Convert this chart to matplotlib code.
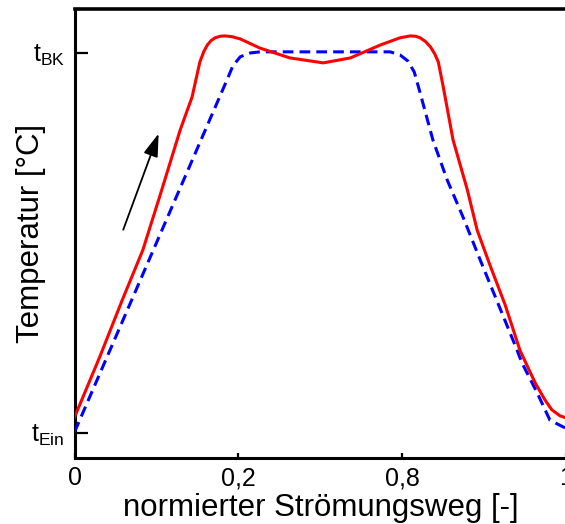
import matplotlib
matplotlib.use("Agg")
import matplotlib.pyplot as plt

# normalised flow path (0..1 over the drawn axis) and temperature (t_Ein = 0, t_BK = 1)
red_x = [0.0, 0.052, 0.097, 0.139, 0.174, 0.215, 0.239, 0.255, 0.263, 0.270, 0.278, 0.286,
         0.296, 0.306, 0.320, 0.337, 0.377, 0.438, 0.506, 0.561, 0.622, 0.662, 0.683,
         0.694, 0.703, 0.714, 0.724, 0.733, 0.740, 0.750, 0.770, 0.799, 0.819, 0.845,
         0.876, 0.906, 0.937, 0.957, 0.971, 0.988, 1.0]
red_y = [0.041, 0.202, 0.349, 0.481, 0.625, 0.797, 0.883, 0.976, 1.003, 1.020, 1.032, 1.039,
         1.043, 1.044, 1.042, 1.036, 1.012, 0.986, 0.973, 0.986, 1.020, 1.039, 1.044,
         1.043, 1.039, 1.029, 1.015, 0.996, 0.975, 0.910, 0.770, 0.639, 0.533, 0.441,
         0.336, 0.217, 0.131, 0.086, 0.060, 0.044, 0.039]

blue_x = [0.0, 0.310, 0.322, 0.337, 0.357, 0.377, 0.642, 0.662, 0.678, 0.691, 0.703,
          0.729, 0.758, 0.790, 0.825, 0.900, 0.910, 0.941, 0.967, 0.994, 1.0]
blue_y = [0.002, 0.928, 0.965, 0.989, 0.999, 1.002, 1.002, 0.994, 0.978, 0.949, 0.894,
          0.770, 0.665, 0.568, 0.455, 0.218, 0.184, 0.105, 0.033, 0.015, 0.012]

x_ticks = [0.0, 1 / 3, 2 / 3, 1.0]
x_labels = ["0", "0,2", "0,8", "1"]
y_ticks = [0.0, 1.0]
y_labels = [r"t$_\mathregular{Ein}$", r"t$_\mathregular{BK}$"]

plt.rcParams.update({
    "font.family": ["Liberation Sans", "DejaVu Sans"],
    "mathtext.default": "regular",
})

fig = plt.figure(figsize=(5.65, 5.24), dpi=100)
ax = fig.add_axes([0.132, 0.126, 0.870, 0.857])

ax.plot(blue_x, blue_y, color="#0000ff", lw=2.2, dashes=(3.5, 2.0), zorder=3)
ax.plot(red_x, red_y, color="#ff0000", lw=2.2, zorder=4, solid_joinstyle="round")

ax.annotate("", xy=(0.171, 0.787), xytext=(0.099, 0.534),
            arrowprops=dict(arrowstyle="-|>,head_length=1.4,head_width=0.45",
                            color="black", lw=1.3, shrinkA=0, shrinkB=0))

ax.set_xlim(0, 1)
ax.set_ylim(-0.0666, 1.115)
ax.set_xticks(x_ticks)
ax.set_xticklabels(x_labels, fontsize=18)
ax.set_yticks(y_ticks)
ax.set_yticklabels(y_labels, fontsize=18)
ax.tick_params(axis="x", direction="in", length=3.6, width=1.6, pad=6)
ax.tick_params(axis="y", direction="in", length=9.5, width=1.6, pad=7)
ax.yaxis.get_major_ticks()[0].tick1line.set_color("#666666")

for side in ("left", "bottom"):
    ax.spines[side].set_linewidth(2.2)
ax.spines["top"].set_linewidth(2.6)
ax.spines["right"].set_visible(False)

ax.set_xlabel("normierter Strömungsweg [-]", fontsize=22.5, labelpad=2)
ax.set_ylabel("Temperatur [°C]", fontsize=22.5)
ax.yaxis.set_label_coords(-0.058, 0.5)

fig.savefig("out.png", dpi=100)
